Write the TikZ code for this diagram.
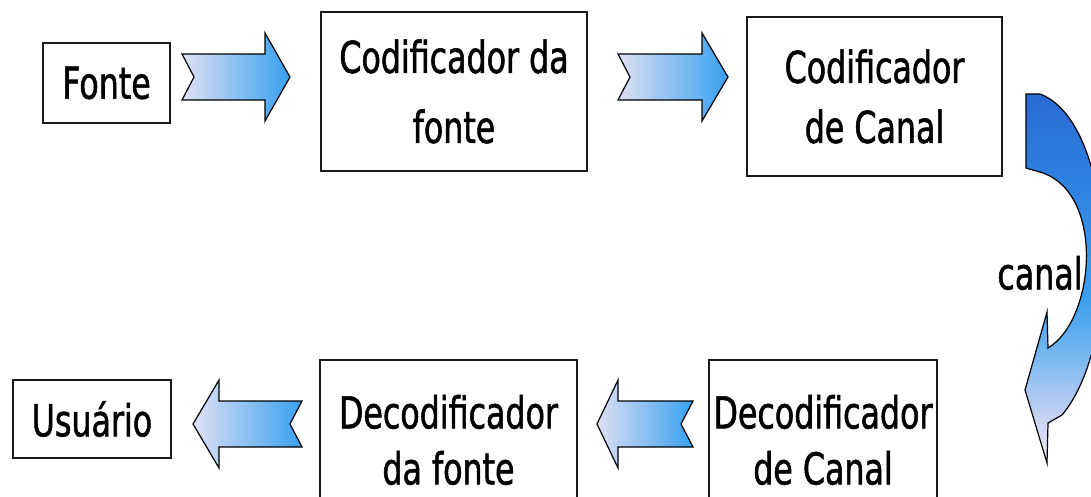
\documentclass[tikz,border=0pt]{standalone}
\usepackage{fontspec}
\newfontfamily\boxfont[FakeStretch=0.72, FakeBold=1.2]{DejaVu Sans}

\definecolor{arrowpale}{RGB}{222,224,244}
\definecolor{arrowblue}{RGB}{55,160,240}
\definecolor{canaltop}{RGB}{40,108,212}
\definecolor{canaldeep}{RGB}{48,130,224}
\definecolor{canalmid}{RGB}{62,160,238}
\definecolor{canallight}{RGB}{115,182,240}
\definecolor{canalpale}{RGB}{200,210,242}
\definecolor{canalend}{RGB}{236,234,248}
\pgfdeclareverticalshading{canalshade}{100bp}{color(0bp)=(canalend); color(25bp)=(canalend);
    color(31bp)=(canalpale); color(40bp)=(canallight); color(47bp)=(canalmid); color(62bp)=(canaldeep);
    color(75bp)=(canaltop); color(100bp)=(canaltop)}

\begin{document}
\begin{tikzpicture}[x=1pt, y=-1pt,
    box/.style={draw=black!90, line width=1.8pt, fill=white, align=center, inner sep=0pt,
        font=\boxfont\fontsize{44}{60}\selectfont},
    blockarrow/.style={draw=black, line width=1.2pt, left color=arrowpale, right color=arrowblue},
    canalarrow/.style={draw=black, line width=1.2pt, shading=canalshade}]

    % page
    \useasboundingbox (0,0) rectangle (1091,496);
    \clip (0,0) rectangle (1091,496);
    \fill[white] (0,0) rectangle (1091,496);

    % block arrows
    \foreach \cx/\cy/\d/\l/\h in {236/77/1/54/25, 673/77/1/55/26, 247.5/424/-1/54.5/26, 645/424/-1/48/21}
        \draw[blockarrow] ({\cx-(\d)*\l},\cy-23) -- ({\cx+(\d)*(\l-\h)},\cy-23)
            -- ({\cx+(\d)*(\l-\h)},\cy-44) -- ({\cx+(\d)*\l},\cy)
            -- ({\cx+(\d)*(\l-\h)},\cy+44) -- ({\cx+(\d)*(\l-\h)},\cy+23)
            -- ({\cx-(\d)*\l},\cy+23) -- ({\cx-(\d)*(\l-12)},\cy) -- cycle;

    % curved arrow
    \draw[canalarrow] (1026,94) -- (1040,94)
        .. controls (1115,122) and (1125,340) .. (1062,415)
        -- (1048,423) -- (1047,463) -- (1025,390) -- (1047,312) -- (1048,348)
        .. controls (1095,320) and (1105,195) .. (1043,173)
        -- (1026,168) -- cycle;

    % top row
    \node[box, minimum width=127pt, minimum height=80pt] (fonte) at (106.5,83) {Fonte};
    \node[box, minimum width=266pt, minimum height=159pt] (codfonte) at (454,91.5) {Codificador da\\[10pt]fonte};
    \node[box, minimum width=255pt, minimum height=159pt] (codcanal) at (874.5,96.5) {Codificador\\de Canal};

    % bottom row
    \node[box, minimum width=158pt, minimum height=78pt] (usuario) at (92,419) {Usuário};
    \node[box, minimum width=257pt, minimum height=160pt] (decfonte) at (448.5,440) {Decodificador\\[-4pt]da fonte};
    \node[box, minimum width=228pt, minimum height=160pt] (deccanal) at (823,440) {Decodificador\\[-4pt]de Canal};

    % channel label
    \node[font=\boxfont\fontsize{44}{60}\selectfont, inner sep=0pt] (canal) at (1040,273) {canal};
\end{tikzpicture}
\end{document}
